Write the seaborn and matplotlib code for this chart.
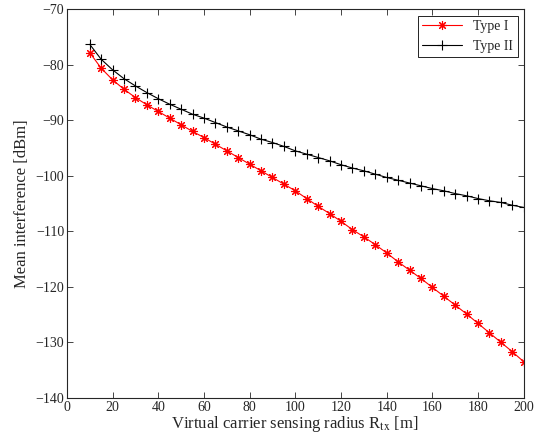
import numpy as np
import pandas as pd
import seaborn as sns
from matplotlib import pyplot as plt

# sensing radius [m]
radius = list(range(10, 201, 5))

# mean interference [dBm]
type_1 = [-77.8, -80.6, -82.7, -84.4, -85.9, -87.2, -88.4, -89.6, -90.8, -92.0,
          -93.1, -94.3, -95.5, -96.7, -97.9, -99.1, -100.3, -101.5, -102.7, -104.1,
          -105.5, -106.8, -108.2, -109.7, -111.0, -112.4, -113.9, -115.5, -117.0, -118.5,
          -120.1, -121.7, -123.3, -124.9, -126.6, -128.3, -130.0, -131.7, -133.5]
type_2 = [-76.3, -79.0, -80.9, -82.5, -83.8, -85.0, -86.1, -87.1, -88.0, -88.9,
          -89.6, -90.4, -91.2, -91.9, -92.6, -93.4, -94.0, -94.7, -95.5, -96.1,
          -96.7, -97.3, -98.0, -98.6, -99.1, -99.7, -100.3, -100.8, -101.3, -101.8,
          -102.3, -102.7, -103.2, -103.6, -104.1, -104.5, -104.8, -105.3, -105.7]

x_ticks = list(range(0, 201, 20))
y_ticks = list(range(-140, -69, 10))

sns.set_style("ticks")
plt.rcParams['font.family'] = ['Liberation Serif', 'DejaVu Serif']
plt.rcParams['mathtext.fontset'] = 'stix'
plt.rcParams['xtick.direction'] = 'in'
plt.rcParams['ytick.direction'] = 'in'
plt.rcParams['xtick.top'] = True
plt.rcParams['ytick.right'] = True

df = pd.DataFrame({'radius': radius, 'Type I': type_1, 'Type II': type_2})

fig, ax = plt.subplots(figsize=(5.35, 4.44), dpi=100)
fig.subplots_adjust(left=0.125, right=0.979, top=0.979, bottom=0.104)

sns.lineplot(ax=ax, data=df, x='radius', y='Type I', color='#ff0000', lw=0.8,
             marker=(8, 2, 0), markersize=6.5, markeredgewidth=0.8,
             markeredgecolor='#ff0000', label='Type I')
sns.lineplot(ax=ax, data=df, x='radius', y='Type II', color='black', lw=0.8,
             marker='+', markersize=7.5, markeredgewidth=0.8,
             markeredgecolor='black', label='Type II')

ax.set_xlim(0, 200)
ax.set_ylim(-140, -70)
ax.set_xticks(x_ticks)
ax.set_yticks(y_ticks)
ax.set_yticklabels(['\u2212' + str(abs(v)) for v in y_ticks])
ax.tick_params(labelsize=10, length=4.5, width=0.6, pad=2)
for s in ax.spines.values():
    s.set_linewidth(0.8)

ax.set_xlabel(r'Virtual carrier sensing radius R$_{\rm tx}$ [m]', fontsize=12, labelpad=0)
ax.set_ylabel('Mean interference [dBm]', fontsize=12, labelpad=4)

leg = ax.legend(loc='upper right', fontsize=10, fancybox=False, framealpha=1,
                edgecolor='black', borderpad=0.3, handlelength=2.9,
                borderaxespad=0.45)
leg.get_frame().set_linewidth(0.6)

plt.savefig('out.png', dpi=100)
